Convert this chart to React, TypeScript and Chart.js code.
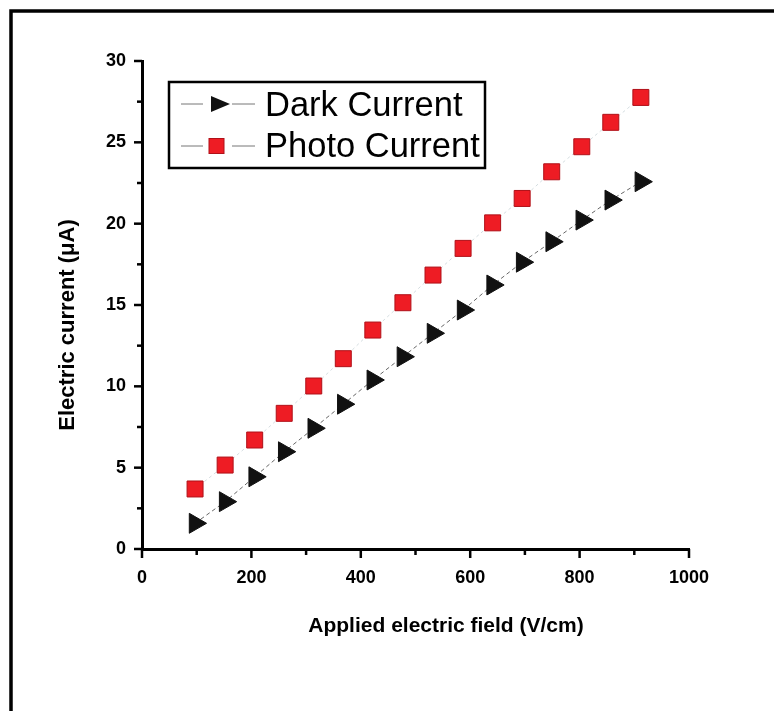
import React, { useEffect, useRef } from 'react';
import { Chart, registerables } from 'chart.js';

Chart.register(...registerables);

const fieldValues = [97, 152, 206, 260, 314, 368, 422, 477, 532, 587, 641, 695, 749, 804, 857, 912];
const darkCurrent = [1.58, 2.91, 4.44, 5.98, 7.42, 8.9, 10.39, 11.82, 13.26, 14.69, 16.23, 17.63, 18.89, 20.22, 21.45, 22.58];
const photoCurrent = [3.69, 5.16, 6.7, 8.34, 10.02, 11.7, 13.46, 15.14, 16.84, 18.48, 20.05, 21.55, 23.19, 24.73, 26.23, 27.76];
const seriesNames = ['Dark Current', 'Photo Current'];
const xTickLabels = ['0', '200', '400', '600', '800', '1000'];
const yTickLabels = ['0', '5', '10', '15', '20', '25', '30'];
const xTitle = 'Applied electric field (V/cm)';
const yTitle = 'Electric current (\u03bcA)';

const TICK_FONT = { family: '"Liberation Sans", Arial, sans-serif', size: 18, weight: 'bold' as const };

const decorPlugin = {
  id: 'decor',
  afterDraw(chart: any) {
    const ctx = chart.ctx as CanvasRenderingContext2D;
    const area = chart.chartArea;
    const xs = chart.scales.x;
    const ys = chart.scales.y;
    ctx.save();
    // outer frame (top and left only, as cropped in the reference)
    ctx.strokeStyle = '#000';
    ctx.lineWidth = 3.5;
    ctx.beginPath();
    ctx.moveTo(11, 711);
    ctx.lineTo(11, 11);
    ctx.lineTo(774, 11);
    ctx.stroke();

    // ticks
    ctx.lineWidth = 2.5;
    ctx.lineCap = 'butt';
    ys.ticks.forEach((t: any) => {
      const py = ys.getPixelForValue(t.value);
      const major = yTickLabels.includes(String(t.value));
      const len = major ? 8 : 5;
      ctx.beginPath();
      ctx.moveTo(area.left - len, py);
      ctx.lineTo(area.left, py);
      ctx.stroke();
    });
    xs.ticks.forEach((t: any) => {
      const px = xs.getPixelForValue(t.value);
      const major = xTickLabels.includes(String(t.value));
      const len = major ? 9 : 6;
      ctx.beginPath();
      ctx.moveTo(px, area.bottom);
      ctx.lineTo(px, area.bottom + len);
      ctx.stroke();
    });

    // axis titles
    ctx.fillStyle = '#000';
    ctx.font = 'bold 21px "Liberation Sans", Arial, sans-serif';
    ctx.textAlign = 'center';
    ctx.textBaseline = 'middle';
    ctx.fillText(xTitle, area.left + 304, area.bottom + 77);
    ctx.save();
    ctx.font = 'bold 22px "Liberation Sans", Arial, sans-serif';
    ctx.translate(68, area.top + 264);
    ctx.rotate(-Math.PI / 2);
    ctx.fillText(yTitle, 0, 0);
    ctx.restore();

    // legend
    const bx = 169, by = 82, bw = 316, bh = 86;
    ctx.lineWidth = 2.5;
    ctx.strokeStyle = '#000';
    ctx.strokeRect(bx, by, bw, bh);
    const rows = [104, 146];
    ctx.lineWidth = 1;
    ctx.strokeStyle = '#777';
    rows.forEach((ry) => {
      ctx.beginPath();
      ctx.moveTo(181, ry);
      ctx.lineTo(203, ry);
      ctx.moveTo(232, ry);
      ctx.lineTo(255, ry);
      ctx.stroke();
    });
    // triangle marker
    ctx.fillStyle = '#111';
    ctx.beginPath();
    ctx.moveTo(211, rows[0] - 8);
    ctx.lineTo(230, rows[0]);
    ctx.lineTo(211, rows[0] + 8);
    ctx.closePath();
    ctx.fill();
    // square marker
    ctx.fillStyle = '#ee1c24';
    ctx.strokeStyle = '#b01018';
    ctx.lineWidth = 1;
    ctx.fillRect(209, rows[1] - 7.5, 15, 15);
    ctx.strokeRect(209, rows[1] - 7.5, 15, 15);

    ctx.fillStyle = '#000';
    ctx.font = '34.5px "Liberation Sans", Arial, sans-serif';
    ctx.textAlign = 'left';
    ctx.textBaseline = 'alphabetic';
    ctx.fillText(seriesNames[0], 265, 116);
    ctx.fillText(seriesNames[1], 265, 157);
    ctx.restore();
  },
};

export default function App() {
  const ref = useRef<HTMLCanvasElement | null>(null);
  useEffect(() => {
    if (!ref.current) return;
    const chart = new Chart(ref.current, {
      type: 'scatter',
      data: {
        datasets: [
          {
            label: seriesNames[0],
            data: fieldValues.map((x, i) => ({ x, y: darkCurrent[i] })),
            showLine: true,
            borderColor: '#666',
            borderWidth: 1,
            borderDash: [4, 3],
            pointStyle: 'triangle',
            rotation: 90,
            pointRadius: 11.5,
            pointHoverRadius: 11.5,
            pointBackgroundColor: '#111',
            pointBorderColor: '#111',
            pointBorderWidth: 1,
          },
          {
            label: seriesNames[1],
            data: fieldValues.map((x, i) => ({ x, y: photoCurrent[i] })),
            showLine: true,
            borderColor: '#d4dde0',
            borderWidth: 1,
            borderDash: [3, 3],
            pointStyle: 'rect',
            pointRadius: 11.3,
            pointHoverRadius: 11.3,
            pointBackgroundColor: '#ee1c24',
            pointBorderColor: '#b01018',
            pointBorderWidth: 1,
          },
        ],
      },
      options: {
        animation: false,
        responsive: false,
        devicePixelRatio: 1,
        layout: { padding: { left: 82, right: 85, top: 61, bottom: 112 } },
        plugins: { legend: { display: false }, tooltip: { enabled: false } },
        scales: {
          x: {
            type: 'linear',
            min: 0,
            max: 1000,
            afterFit: (s: any) => { s.height = 50; },
            grid: { display: false, drawTicks: false },
            border: { display: true, color: '#000', width: 3 },
            ticks: {
              stepSize: 100,
              autoSkip: false,
              maxRotation: 0,
              padding: 18,
              color: '#000',
              font: TICK_FONT,
              callback: (v: any) => (xTickLabels.includes(String(v)) ? String(v) : ''),
            },
          },
          y: {
            type: 'linear',
            min: 0,
            max: 30,
            afterFit: (s: any) => { s.width = 60; },
            grid: { display: false, drawTicks: false },
            border: { display: true, color: '#000', width: 3 },
            ticks: {
              stepSize: 2.5,
              autoSkip: false,
              padding: 16,
              color: '#000',
              font: TICK_FONT,
              callback: (v: any) => (yTickLabels.includes(String(v)) ? String(v) : ''),
            },
          },
        },
      },
      plugins: [decorPlugin],
    });
    return () => chart.destroy();
  }, []);
  return (
    <div style={{ position: 'absolute', left: 0, top: 0, width: 774, height: 711, background: '#fff' }}>
      <canvas ref={ref} width={774} height={711} style={{ display: 'block' }} />
    </div>
  );
}
